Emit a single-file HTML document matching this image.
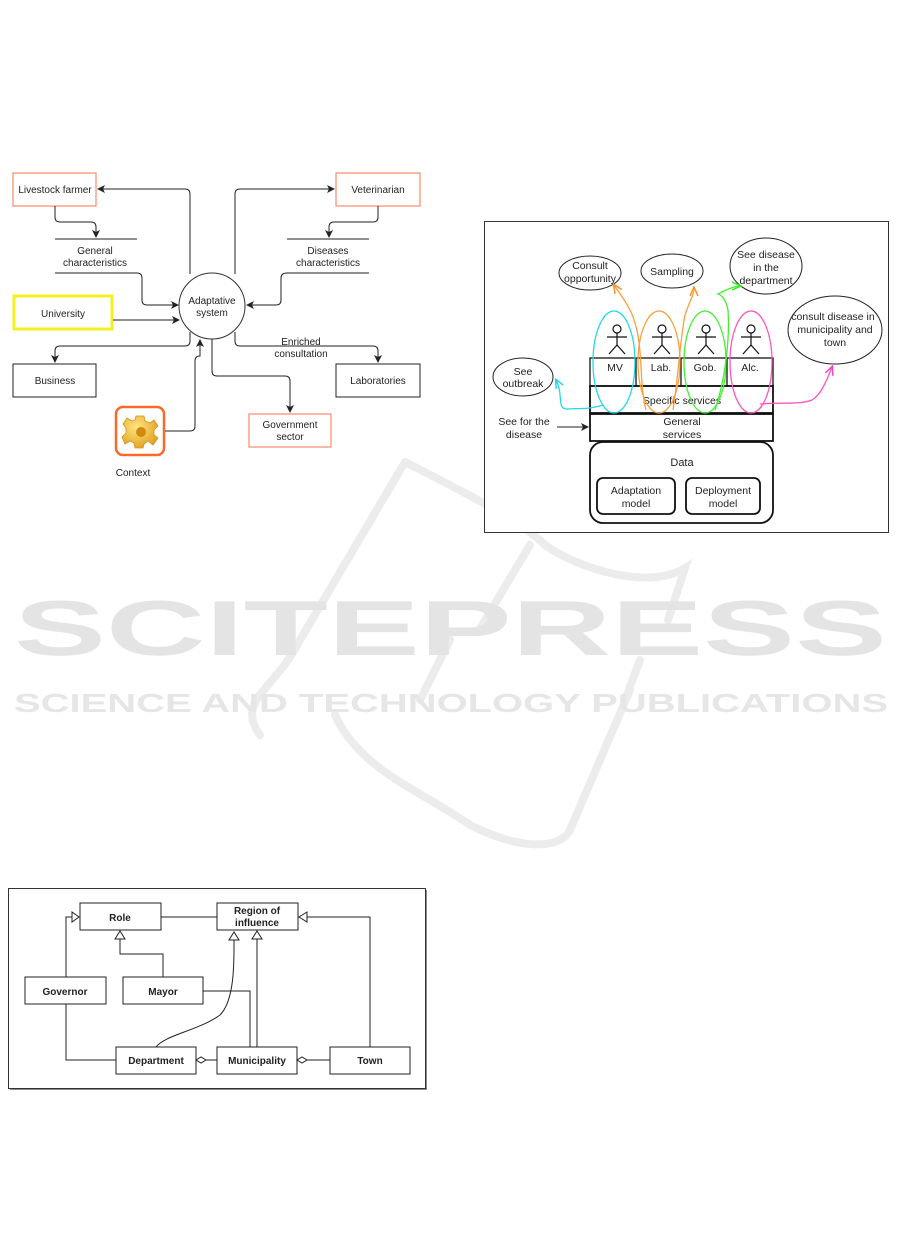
<!DOCTYPE html>
<html><head><meta charset="utf-8"><style>
html,body{margin:0;padding:0;background:#fff;width:902px;height:1257px;overflow:hidden}
svg{display:block}
text{font-family:"Liberation Sans",sans-serif;fill:#222}
</style></head><body>
<svg width="902" height="1257" viewBox="0 0 902 1257" xmlns="http://www.w3.org/2000/svg">
<defs>
<marker id="a" markerWidth="8" markerHeight="8" refX="7" refY="4" orient="auto" markerUnits="userSpaceOnUse"><path d="M0,0 L8,4 L0,8 L2,4 z" fill="#222"/></marker>
<marker id="ao" markerWidth="10" markerHeight="10" refX="8" refY="5" orient="auto" markerUnits="userSpaceOnUse"><path d="M0,1 L9,5 L0,9" fill="none" stroke="#f7941d" stroke-width="1.5"/></marker>
<marker id="ag" markerWidth="10" markerHeight="10" refX="8" refY="5" orient="auto" markerUnits="userSpaceOnUse"><path d="M0,1 L9,5 L0,9" fill="none" stroke="#33ee22" stroke-width="1.5"/></marker>
<marker id="ac" markerWidth="10" markerHeight="10" refX="8" refY="5" orient="auto" markerUnits="userSpaceOnUse"><path d="M0,1 L9,5 L0,9" fill="none" stroke="#22d8e8" stroke-width="1.5"/></marker>
<marker id="ap" markerWidth="10" markerHeight="10" refX="8" refY="5" orient="auto" markerUnits="userSpaceOnUse"><path d="M0,1 L9,5 L0,9" fill="none" stroke="#ff44bb" stroke-width="1.5"/></marker>
<radialGradient id="gg" cx="40%" cy="35%" r="70%"><stop offset="0" stop-color="#ffe680"/><stop offset="1" stop-color="#e0a020"/></radialGradient>
</defs>

<!-- watermark -->
<g fill="none" stroke="#ececec" stroke-width="8" stroke-linecap="round">
<path d="M405,462 C460,490 520,520 545,545 C580,570 650,590 685,568 L668,620"/>
<path d="M405,462 L300,640 C275,690 235,700 260,735"/>
<path d="M530,545 L478,632"/>
<path d="M450,640 L420,700"/>
<path d="M335,715 C360,770 420,790 470,825 C520,850 560,850 570,830 L630,690"/>
<path d="M640,660 L625,700"/>
</g>
<text x="14" y="655" font-size="78" font-weight="bold" textLength="873" lengthAdjust="spacingAndGlyphs" style="fill:#e4e4e4">SCITEPRESS</text>
<text x="14" y="712" font-size="26" font-weight="bold" textLength="874" lengthAdjust="spacingAndGlyphs" style="fill:#e6e6e6">SCIENCE AND TECHNOLOGY PUBLICATIONS</text>

<!-- ===== Diagram 1 ===== -->
<g font-size="10" text-anchor="middle">
<rect x="13" y="173" width="83" height="33" fill="#fff" stroke="#f98a6a" stroke-width="1.2"/>
<text x="55" y="193">Livestock farmer</text>
<rect x="336" y="173" width="84" height="33" fill="#fff" stroke="#f98a6a" stroke-width="1.2"/>
<text x="378" y="193">Veterinarian</text>
<line x1="55" y1="239" x2="137" y2="239" stroke="#222"/>
<line x1="55" y1="273" x2="137" y2="273" stroke="#222"/>
<text x="95" y="254">General</text><text x="95" y="266">characteristics</text>
<line x1="287" y1="239" x2="369" y2="239" stroke="#222"/>
<line x1="287" y1="273" x2="369" y2="273" stroke="#222"/>
<text x="328" y="254">Diseases</text><text x="328" y="266">characteristics</text>
<rect x="14" y="296" width="98" height="33" fill="#fff" stroke="#f5f020" stroke-width="3"/>
<text x="63" y="317">University</text>
<circle cx="212" cy="306" r="33" fill="#fff" stroke="#333"/>
<text x="212" y="304">Adaptative</text><text x="212" y="316">system</text>
<rect x="13" y="364" width="83" height="33" fill="#fff" stroke="#222"/>
<text x="55" y="384">Business</text>
<rect x="336" y="364" width="84" height="33" fill="#fff" stroke="#222"/>
<text x="378" y="384">Laboratories</text>
<rect x="249" y="414" width="82" height="33" fill="#fff" stroke="#f98a6a" stroke-width="1.2"/>
<text x="290" y="428">Government</text><text x="290" y="440">sector</text>
<text x="301" y="345">Enriched</text><text x="301" y="357">consultation</text>
<rect x="116" y="407" width="48" height="48" rx="7" fill="#fff" stroke="#f96a2a" stroke-width="2.5"/>
<g transform="translate(140,431)">
<path d="M-4,-15 L4,-15 L5,-10 L10,-8 L14,-11 L18,-5 L14,-1 L14,4 L18,7 L13,14 L8,10 L4,13 L3,17 L-5,17 L-6,12 L-10,10 L-15,13 L-18,6 L-14,2 L-14,-3 L-17,-7 L-13,-13 L-8,-10 L-5,-11 z" fill="url(#gg)" stroke="#d49418" stroke-width="0.8"/>
<circle cx="1" cy="1" r="5" fill="#d08a10"/>
</g>
<text x="133" y="476">Context</text>
</g>
<g fill="none" stroke="#222" stroke-width="1">
<path d="M190,274 L190,194 Q190,189 185,189 L98,189" marker-end="url(#a)"/>
<path d="M235,274 L235,194 Q235,189 240,189 L334,189" marker-end="url(#a)"/>
<path d="M55,206 L55,217 Q55,222 60,222 L91,222 Q96,222 96,227 L96,237" marker-end="url(#a)"/>
<path d="M378,206 L378,217 Q378,222 373,222 L334,222 Q329,222 329,227 L329,237" marker-end="url(#a)"/>
<path d="M137,273 Q142,273 142,278 L142,300 Q142,305 147,305 L178,305" marker-end="url(#a)"/>
<path d="M287,273 Q281,273 281,278 L281,300 Q281,305 276,305 L247,305" marker-end="url(#a)"/>
<path d="M113,320 L179,320" marker-end="url(#a)"/>
<path d="M190,332 L190,341 Q190,346 185,346 L60,346 Q55,346 55,351 L55,362" marker-end="url(#a)"/>
<path d="M235,332 L235,341 Q235,346 240,346 L373,346 Q378,346 378,351 L378,362" marker-end="url(#a)"/>
<path d="M212,339 L212,371 Q212,376 217,376 L285,376 Q290,376 290,381 L290,412" marker-end="url(#a)"/>
<path d="M165,431 L190,431 Q195,431 195,426 L195,361 Q195,356 200,356 L200,340" marker-end="url(#a)"/>
</g>

<!-- ===== Diagram 2 ===== -->
<rect x="484.5" y="221.5" width="404" height="311" fill="#fff" stroke="#333"/>
<g font-size="10" text-anchor="middle" fill="#fff" stroke="#222">
<ellipse cx="590" cy="273" rx="31" ry="17"/>
<ellipse cx="672" cy="271" rx="31" ry="17"/>
<ellipse cx="766" cy="266" rx="36" ry="28"/>
<ellipse cx="835" cy="330" rx="47" ry="34"/>
<ellipse cx="523" cy="377" rx="30" ry="19"/>
</g>
<g font-size="10.5" text-anchor="middle">
<text x="590" y="269">Consult</text><text x="590" y="282">opportunity</text>
<text x="672" y="275">Sampling</text>
<text x="766" y="258">See disease</text><text x="766" y="271">in the</text><text x="766" y="284">department</text>
<text x="833" y="320">consult disease in</text><text x="835" y="333">municipality and</text><text x="835" y="346">town</text>
<text x="523" y="375">See</text><text x="523" y="387">outbreak</text>
<text x="524" y="425">See for the</text><text x="524" y="438">disease</text>
</g>
<g fill="none" stroke="#111" stroke-width="1.3">
<rect x="590" y="358" width="183" height="28"/>
<line x1="636" y1="358" x2="636" y2="386"/>
<line x1="681" y1="358" x2="681" y2="386"/><line x1="727" y1="358" x2="727" y2="386"/>
<rect x="590" y="386" width="183" height="27" stroke-width="1.8"/>
<rect x="590" y="414" width="183" height="27" stroke-width="1.8"/>
<rect x="590" y="442" width="183" height="81" rx="13" stroke-width="1.8"/>
<rect x="597" y="478" width="78" height="36" rx="6" stroke-width="1.8"/>
<rect x="686" y="478" width="74" height="36" rx="6" stroke-width="1.8"/>
</g>
<path d="M557,427 L588,427" stroke="#222" fill="none" marker-end="url(#a)"/>
<g font-size="10.5" text-anchor="middle">
<text x="615" y="371">MV</text><text x="661" y="371">Lab.</text><text x="705" y="371">Gob.</text><text x="750" y="371">Alc.</text>
<text x="682" y="404">Specific services</text>
<text x="682" y="425">General</text><text x="682" y="438">services</text>
<text x="682" y="466" font-size="11">Data</text>
<text x="636" y="494">Adaptation</text><text x="636" y="507">model</text>
<text x="723" y="494">Deployment</text><text x="723" y="507">model</text>
</g>
<g fill="none" stroke="#111" stroke-width="1.2">
<g id="act"><circle cx="617" cy="329" r="4"/><line x1="617" y1="333" x2="617" y2="345"/><line x1="607" y1="337" x2="627" y2="337"/><line x1="617" y1="345" x2="609" y2="354"/><line x1="617" y1="345" x2="625" y2="354"/></g>
<use href="#act" x="45"/><use href="#act" x="89"/><use href="#act" x="134"/>
</g>
<g fill="none" stroke-width="1.3">
<ellipse cx="614" cy="362" rx="21" ry="51" stroke="#22d8e8"/>
<ellipse cx="659" cy="362" rx="21" ry="51" stroke="#f7a040"/>
<ellipse cx="705" cy="362" rx="21" ry="51" stroke="#44ee33"/>
<ellipse cx="751" cy="362" rx="21" ry="51" stroke="#ff55bb"/>
<path d="M604,405 C585,410 580,408 568,409 C556,410 564,395 556,380" stroke="#22d8e8" marker-end="url(#ac)"/>
<path d="M646,410 C638,380 645,340 630,310 C625,300 620,294 614,285" stroke="#f7a040" marker-end="url(#ao)"/>
<path d="M673,410 C678,380 680,340 685,315 C690,300 694,295 694,288" stroke="#f7a040" marker-end="url(#ao)"/>
<path d="M715,410 C725,380 730,340 728,310 C726,300 722,295 718,294 C725,290 735,286 740,286" stroke="#44ee33" marker-end="url(#ag)"/>
<path d="M760,404 C780,402 800,405 812,400 C820,395 825,385 832,367" stroke="#ff55bb" marker-end="url(#ap)"/>
</g>

<!-- ===== Diagram 3 ===== -->
<rect x="10" y="890" width="417" height="200" fill="#888"/>
<rect x="8.5" y="888.5" width="417" height="200" fill="#fff" stroke="#333"/>
<g fill="#fff" stroke="#222" stroke-width="1">
<rect x="80" y="903" width="81" height="27"/>
<rect x="217" y="903" width="81" height="27"/>
<rect x="25" y="977" width="81" height="27"/>
<rect x="123" y="977" width="80" height="27"/>
<rect x="116" y="1047" width="80" height="27"/>
<rect x="217" y="1047" width="80" height="27"/>
<rect x="330" y="1047" width="80" height="27"/>
</g>
<g font-size="10" font-weight="bold" text-anchor="middle">
<text x="120" y="921">Role</text>
<text x="257" y="914">Region of</text><text x="257" y="926">influence</text>
<text x="65" y="995">Governor</text>
<text x="163" y="995">Mayor</text>
<text x="156" y="1064">Department</text>
<text x="257" y="1064">Municipality</text>
<text x="370" y="1064">Town</text>
</g>
<g fill="none" stroke="#222" stroke-width="1">
<line x1="161" y1="917" x2="217" y2="917"/>
<path d="M66,977 L66,917 L72,917"/>
<path d="M72,912 L79,917 L72,922 z" fill="#fff"/>
<path d="M163,977 L163,954 L120,954 L120,939"/>
<path d="M115,939 L120,931 L125,939 z" fill="#fff"/>
<path d="M203,991 L250,991 L250,1047"/>
<path d="M257,1047 L257,939"/>
<path d="M252,939 L257,931 L262,939 z" fill="#fff"/>
<path d="M156,1047 C165,1035 200,1030 220,1015 C235,1000 234,960 234,940"/>
<path d="M229,940 L234,932 L239,940 z" fill="#fff"/>
<path d="M66,1004 L66,1060 L116,1060"/>
<line x1="206" y1="1060" x2="217" y2="1060"/>
<path d="M196,1060 L201,1057 L206,1060 L201,1063 z" fill="#fff"/>
<line x1="307" y1="1060" x2="330" y2="1060"/>
<path d="M297,1060 L302,1057 L307,1060 L302,1063 z" fill="#fff"/>
<path d="M370,1047 L370,917 L307,917"/>
<path d="M307,912 L299,917 L307,922 z" fill="#fff"/>
</g>
</svg>
</body></html>
